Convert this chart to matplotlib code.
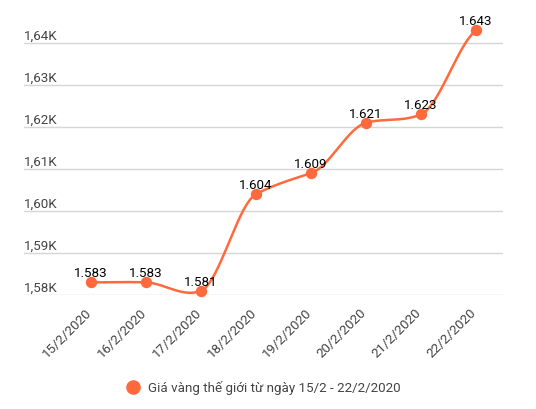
import numpy as np
import matplotlib
matplotlib.use('Agg')
import matplotlib.pyplot as plt
import matplotlib.transforms as mtransforms
from matplotlib.lines import Line2D

dates = ['15/2/2020', '16/2/2020', '17/2/2020', '18/2/2020',
         '19/2/2020', '20/2/2020', '21/2/2020', '22/2/2020']
prices = [1583, 1583, 1581, 1604, 1609, 1621, 1623, 1643]
y_ticks = [1580, 1590, 1600, 1610, 1620, 1630, 1640]
series_name = 'Giá vàng thế giới từ ngày 15/2 - 22/2/2020'

ORANGE = '#FF6A3D'
GREY = '#444444'
FS = 9.6

plt.rcParams['font.family'] = ['Roboto', 'DejaVu Sans']


def smooth_curve(xs, ys, tension=0.5, n=40):
    # cardinal spline through the points, only used to draw the line
    xs = np.asarray(xs, float)
    ys = np.asarray(ys, float)
    m = np.zeros_like(ys)
    m[1:-1] = tension * (ys[2:] - ys[:-2]) / 2
    m[0] = tension * (ys[1] - ys[0])
    m[-1] = tension * (ys[-1] - ys[-2])
    out_x, out_y = [], []
    for i in range(len(xs) - 1):
        t = np.linspace(0, 1, n)
        h00 = 2 * t**3 - 3 * t**2 + 1
        h10 = t**3 - 2 * t**2 + t
        h01 = -2 * t**3 + 3 * t**2
        h11 = t**3 - t**2
        out_x.append(xs[i] + t * (xs[i + 1] - xs[i]))
        out_y.append(h00 * ys[i] + h10 * m[i] + h01 * ys[i + 1] + h11 * m[i + 1])
    return np.concatenate(out_x), np.concatenate(out_y)


fig = plt.figure(figsize=(5.36, 4.09), dpi=100)
ax = fig.add_axes([24 / 536, 1 - 295 / 409, (503 - 24) / 536, 294 / 409])
x = np.arange(len(dates))
ax.set_xlim(-67 / 55, 7 + 27 / 55)
ax.set_ylim(1580, 1580 + 294 / 4.2)

for s in ax.spines.values():
    s.set_visible(False)
ax.set_yticks(y_ticks)
ax.set_yticklabels([])
ax.grid(axis='y', color='#d6d6d6', lw=1)
ax.set_axisbelow(True)
ax.tick_params(length=0)

for v in y_ticks:
    ax.annotate(f'{v / 1000:.2f}'.replace('.', ',') + 'K', (0, v),
                xycoords=ax.get_yaxis_transform(), xytext=(0, 2.2),
                textcoords='offset points', ha='left', va='baseline',
                fontsize=FS, color=GREY)

ax.set_xticks(x)
ax.set_xticklabels(dates, rotation=45, ha='right', va='top', fontsize=FS, color=GREY)
ax.tick_params(axis='x', pad=8)
offset = mtransforms.ScaledTranslation(3 / 100, 0, fig.dpi_scale_trans)
for lbl in ax.get_xticklabels():
    lbl.set_transform(lbl.get_transform() + offset)

cx, cy = smooth_curve(x, prices)
ax.plot(cx, cy, color=ORANGE, lw=1.8, clip_on=False, zorder=3)
ax.plot(x, prices, 'o', color=ORANGE, ms=7.2, clip_on=False, zorder=4)

for xi, v in zip(x, prices):
    ax.annotate(f'{v:,}'.replace(',', '.'), (xi, v), xytext=(0, 3.6),
                textcoords='offset points', ha='center', va='baseline',
                fontsize=FS, color='black', zorder=5)

handle = Line2D([], [], marker='o', ls='', color=ORANGE, markersize=9.5)
fig.legend(handles=[handle], labels=[series_name], loc='center',
           bbox_to_anchor=(263 / 536, 1 - 388 / 409), frameon=False,
           fontsize=FS, labelcolor=GREY, handletextpad=0.5, handlelength=1.2)

fig.savefig('out.png', dpi=100)
